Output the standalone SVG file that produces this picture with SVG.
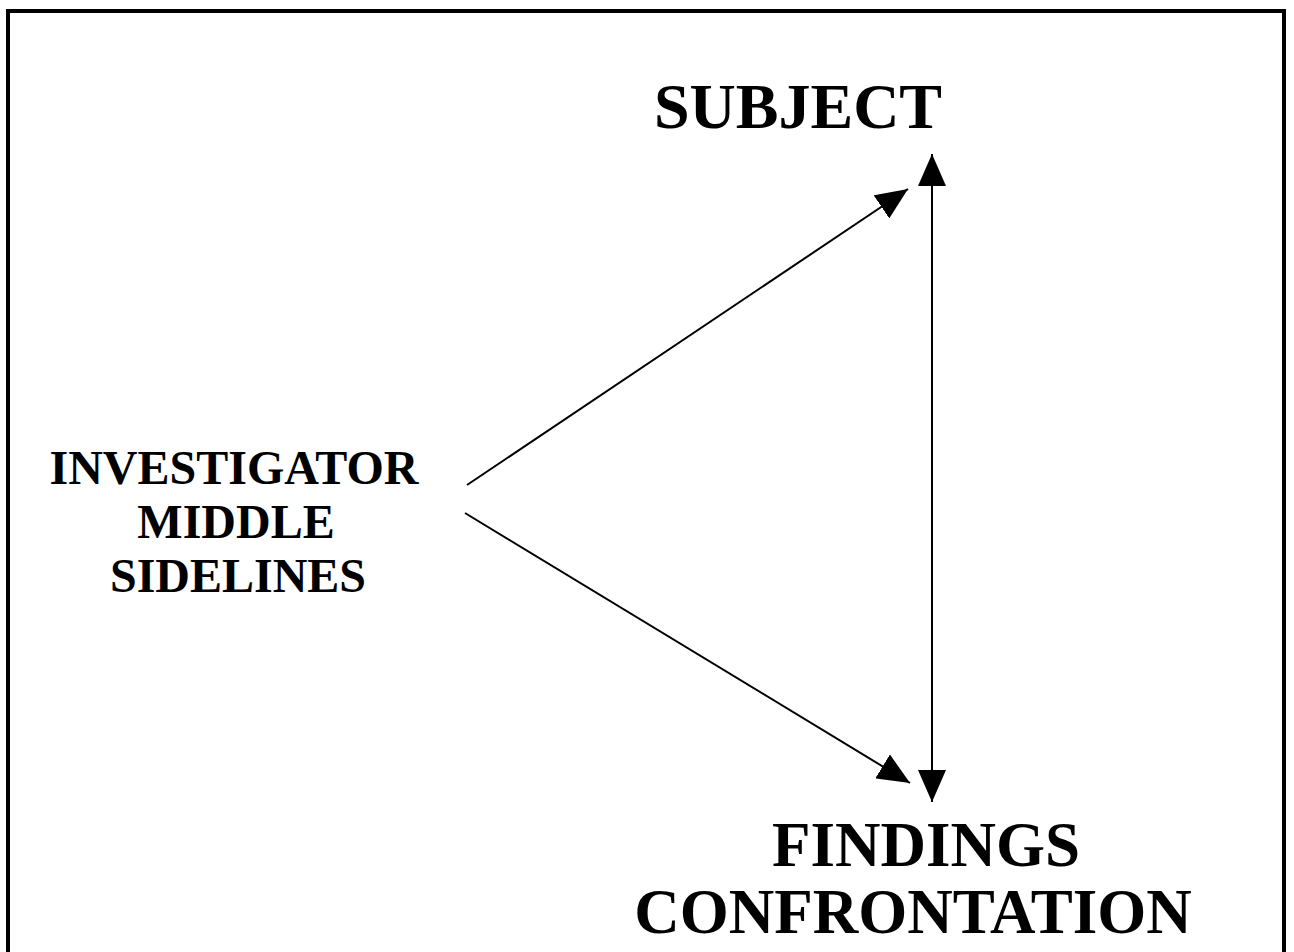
<svg xmlns="http://www.w3.org/2000/svg" width="1294" height="952" viewBox="0 0 1294 952">
  <style>
    .lbl { font-family: "Liberation Serif", "Times New Roman", serif; font-weight: bold; fill: #000; text-anchor: middle; }
    .big { font-size: 64px; }
    .big2 { font-size: 63px; }
    .mid { font-size: 48px; }
    .edge { stroke: #000; stroke-width: 2; fill: none; }
  </style>
  <defs>
    <marker id="ah" markerUnits="userSpaceOnUse" markerWidth="32" markerHeight="28" refX="32" refY="14" orient="auto">
      <path d="M0,0 L32,14 L0,28 Z" fill="#000"/>
    </marker>
    <marker id="ahs" markerUnits="userSpaceOnUse" markerWidth="32" markerHeight="28" refX="0" refY="14" orient="auto">
      <path d="M32,0 L0,14 L32,28 Z" fill="#000"/>
    </marker>
  </defs>
  <rect x="0" y="0" width="1294" height="952" fill="#fff"/>
  <rect x="8" y="11" width="1276" height="960" fill="none" stroke="#000" stroke-width="4"/>
  <g id="subject">
    <text class="lbl big" x="798" y="128">SUBJECT</text>
  </g>
  <g id="investigator">
    <text class="lbl mid" x="234" y="484">INVESTIGATOR</text>
    <text class="lbl mid" x="236" y="538">MIDDLE</text>
    <text class="lbl mid" x="238" y="592">SIDELINES</text>
  </g>
  <g id="findings">
    <text class="lbl big2" x="926" y="866">FINDINGS</text>
    <text class="lbl big2" x="913" y="933">CONFRONTATION</text>
  </g>
  <g id="connectors">
    <line class="edge" x1="467" y1="485" x2="908" y2="189" marker-end="url(#ah)"/>
    <line class="edge" x1="465" y1="513" x2="910" y2="783" marker-end="url(#ah)"/>
    <line class="edge" x1="932" y1="154" x2="932" y2="802" marker-start="url(#ahs)" marker-end="url(#ah)"/>
  </g>
</svg>
